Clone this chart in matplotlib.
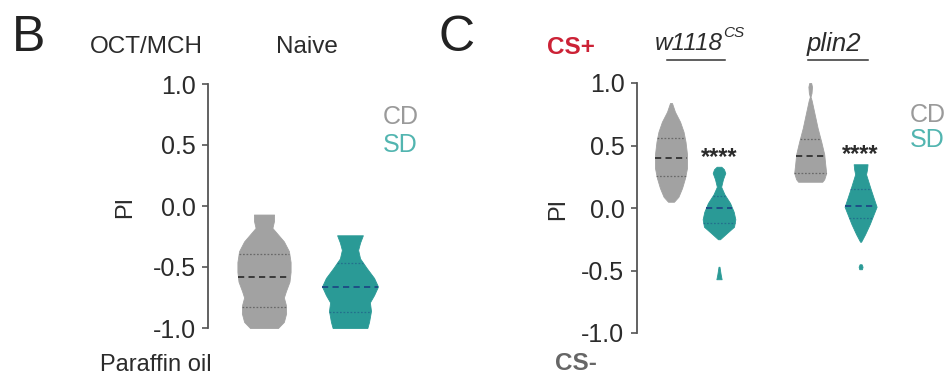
import numpy as np
import matplotlib
matplotlib.use("Agg")
import matplotlib.pyplot as plt

plt.rcParams['font.family'] = ['Liberation Sans', 'DejaVu Sans']

# ---------------- data ----------------
# Violin outlines: PI level and relative density (1 = widest point)
# Panel B (naive, OCT/MCH vs paraffin oil)
naive_cd_pi = [-0.07, -0.12, -0.18, -0.29, -0.37, -0.46, -0.54, -0.62, -0.70, -0.75, -0.81, -0.88, -0.95, -1.0]
naive_cd_dens = [0.36, 0.36, 0.30, 0.71, 0.89, 0.95, 0.95, 0.91, 0.78, 0.71, 0.78, 0.79, 0.71, 0.50]
naive_cd_quart = [-0.83, -0.58, -0.39]

naive_sd_pi = [-0.24, -0.30, -0.36, -0.43, -0.51, -0.59, -0.66, -0.73, -0.79, -0.86, -0.95, -1.0]
naive_sd_dens = [0.46, 0.36, 0.29, 0.36, 0.60, 0.86, 1.00, 0.86, 0.71, 0.75, 0.68, 0.62]
naive_sd_quart = [-0.87, -0.66, -0.47]

# Panel C (trained, CS+ vs CS-)
w1118_cd_pi = [0.84, 0.77, 0.69, 0.61, 0.53, 0.43, 0.32, 0.24, 0.16, 0.09, 0.05]
w1118_cd_dens = [0.06, 0.24, 0.55, 0.76, 0.88, 0.97, 0.97, 0.85, 0.67, 0.45, 0.18]
w1118_cd_quart = [0.26, 0.40, 0.56]

w1118_sd_pi = [0.33, 0.31, 0.28, 0.23, 0.17, 0.11, 0.04, -0.03, -0.09, -0.15, -0.20, -0.25]
w1118_sd_dens = [0.14, 0.30, 0.38, 0.24, 0.13, 0.33, 0.67, 0.89, 0.99, 0.91, 0.48, 0.06]
w1118_sd_tail_pi = [-0.47, -0.53, -0.57]
w1118_sd_tail_dens = [0.03, 0.10, 0.16]
w1118_sd_quart = [-0.12, 0.0, 0.10]

plin2_cd_pi = [1.0, 0.97, 0.92, 0.89, 0.86, 0.75, 0.64, 0.53, 0.43, 0.35, 0.28, 0.23, 0.21]
plin2_cd_dens = [0.06, 0.11, 0.08, 0.02, 0.09, 0.27, 0.45, 0.67, 0.85, 0.91, 0.97, 0.85, 0.73]
plin2_cd_quart = [0.28, 0.42, 0.55]

plin2_sd_pi = [0.35, 0.31, 0.27, 0.16, 0.08, 0.01, -0.05, -0.13, -0.21, -0.27]
plin2_sd_dens = [0.42, 0.39, 0.33, 0.59, 0.79, 0.97, 0.79, 0.55, 0.27, 0.03]
plin2_sd_tail_pi = [-0.45, -0.47, -0.49]
plin2_sd_tail_dens = [0.06, 0.12, 0.08]
plin2_sd_quart = [-0.08, 0.02, 0.15]

genotypes = ["w1118", "plin2"]
sig_labels = ["****", "****"]
sig_levels = [0.44, 0.46]
yticks = [-1.0, -0.5, 0.0, 0.5, 1.0]

# ---------------- style ----------------
W, H = 946, 384
GRAY = "#a2a2a2"
TEAL = "#2a9a96"
GRAY_MED = "#3a3a3a"
TEAL_MED = "#1d4f86"
TEXT = "#2b2b2b"
SPINE = "#555555"

fig = plt.figure(figsize=(W / 100, H / 100), dpi=100)


def px(x, y):
    return x / W, 1 - y / H


def axes_px(left, top, right, bottom):
    return fig.add_axes([left / W, 1 - bottom / H, (right - left) / W, (bottom - top) / H])


def style_axis(ax):
    for s in ["top", "right", "bottom"]:
        ax.spines[s].set_visible(False)
    ax.spines["left"].set_color(SPINE)
    ax.spines["left"].set_linewidth(1.3)
    ax.set_ylim(-1.0, 1.0)
    ax.set_yticks(yticks)
    ax.set_yticklabels([f"{t:.1f}" for t in yticks])
    ax.tick_params(axis="y", length=4, width=1.2, color=SPINE, pad=5,
                   labelsize=18, labelcolor=TEXT)
    ax.set_xticks([])
    ax.patch.set_alpha(0)


def violin(ax, x, pi, dens, half, color, quart, med_color, tail=None):
    pi = np.asarray(pi)
    w = np.asarray(dens) * half
    ax.fill_betweenx(pi, x - w, x + w, color=color, lw=0.6, edgecolor=color,
                     clip_on=False, zorder=2)
    if tail is not None:
        tp, td = np.asarray(tail[0]), np.asarray(tail[1]) * half
        ax.fill_betweenx(tp, x - td, x + td, color=color, lw=0.6,
                         edgecolor=color, clip_on=False, zorder=2)
    order = np.argsort(pi)
    for i, q in enumerate(quart):
        qw = np.interp(q, pi[order], w[order])
        if i == 1:
            ax.plot([x - qw, x + qw], [q, q], color=med_color, lw=1.4,
                    ls=(0, (3.2, 2.2)), zorder=3, solid_capstyle="butt")
        else:
            ax.plot([x - qw, x + qw], [q, q], color=med_color, lw=0.9,
                    ls=(0, (1.4, 1.4)), alpha=0.55, zorder=3)


# ---------------- panel B ----------------
axB = axes_px(208, 84, 440, 328)
style_axis(axB)
b_scale = 86.0  # pixels per x unit
axB.set_xlim(-(264 - 208) / b_scale, (440 - 264) / b_scale)
halfB = 28 / b_scale
violin(axB, 0, naive_cd_pi, naive_cd_dens, halfB, GRAY, naive_cd_quart, GRAY_MED)
violin(axB, 1, naive_sd_pi, naive_sd_dens, halfB, TEAL, naive_sd_quart, TEAL_MED)

# ---------------- panel C ----------------
axC = axes_px(637, 83, 946, 333)
style_axis(axC)
c_scale = 48.0
axC.set_xlim(-(671 - 637) / c_scale, (946 - 671) / c_scale)
halfC = 16.5 / c_scale
pos = [0.0, 1.0, 2.9, 3.95]
violin(axC, pos[0], w1118_cd_pi, w1118_cd_dens, halfC, GRAY, w1118_cd_quart, GRAY_MED)
violin(axC, pos[1], w1118_sd_pi, w1118_sd_dens, halfC, TEAL, w1118_sd_quart, TEAL_MED,
       tail=(w1118_sd_tail_pi, w1118_sd_tail_dens))
violin(axC, pos[2], plin2_cd_pi, plin2_cd_dens, halfC, GRAY, plin2_cd_quart, GRAY_MED)
violin(axC, pos[3], plin2_sd_pi, plin2_sd_dens, halfC, TEAL, plin2_sd_quart, TEAL_MED,
       tail=(plin2_sd_tail_pi, plin2_sd_tail_dens))

for xs, lab, lev in zip([pos[1], pos[3]], sig_labels, sig_levels):
    axC.annotate(lab, (xs, lev), xytext=(0, -3), textcoords="offset points",
                 ha="center", va="center", fontsize=17, color=TEXT,
                 fontweight="bold")

# ---------------- labels ----------------
fig.text(*px(12, 38), "B", fontsize=36, color="#222222", ha="left", va="center")
fig.text(*px(438, 38), "C", fontsize=36, color="#222222", ha="left", va="center")

fig.text(*px(90, 47), "OCT/MCH", fontsize=17.5, color=TEXT, ha="left", va="center")
fig.text(*px(307, 47), "Naive", fontsize=17.5, color=TEXT, ha="center", va="center")
fig.text(*px(100, 365), "Paraffin oil", fontsize=17, color=TEXT, ha="left", va="center")
fig.text(*px(125, 207), "PI", fontsize=17, color=TEXT, ha="center", va="center",
         rotation=90)
fig.text(*px(383, 117), "CD", fontsize=18, color="#9a9a9a", ha="left", va="center")
fig.text(*px(383, 145), "SD", fontsize=18, color="#52b5b0", ha="left", va="center")

fig.text(*px(547, 48), "CS+", fontsize=17.5, color="#cc2236", ha="left", va="center",
         fontweight="bold")
fig.text(*px(555, 363), "CS-", fontsize=17.5, color="#666666", ha="left", va="center",
         fontweight="bold")
fig.text(*px(558, 209), "PI", fontsize=17, color=TEXT, ha="center", va="center",
         rotation=90)

fig.text(*px(655, 43), genotypes[0], fontsize=17.5, color=TEXT, ha="left", va="center",
         style="italic")
fig.text(*px(723, 33), "CS", fontsize=11, color=TEXT, ha="left", va="center",
         style="italic")
fig.text(*px(807, 44), genotypes[1], fontsize=18.5, color=TEXT, ha="left", va="center",
         style="italic")
fig.add_artist(plt.Line2D([667 / W, 725 / W], [1 - 60 / H] * 2, color="#333333", lw=1.1))
fig.add_artist(plt.Line2D([808 / W, 868 / W], [1 - 60 / H] * 2, color="#333333", lw=1.1))

fig.text(*px(910, 115), "CD", fontsize=18, color="#9a9a9a", ha="left", va="center")
fig.text(*px(910, 140), "SD", fontsize=18, color="#52b5b0", ha="left", va="center")

fig.savefig("out.png", dpi=100)
